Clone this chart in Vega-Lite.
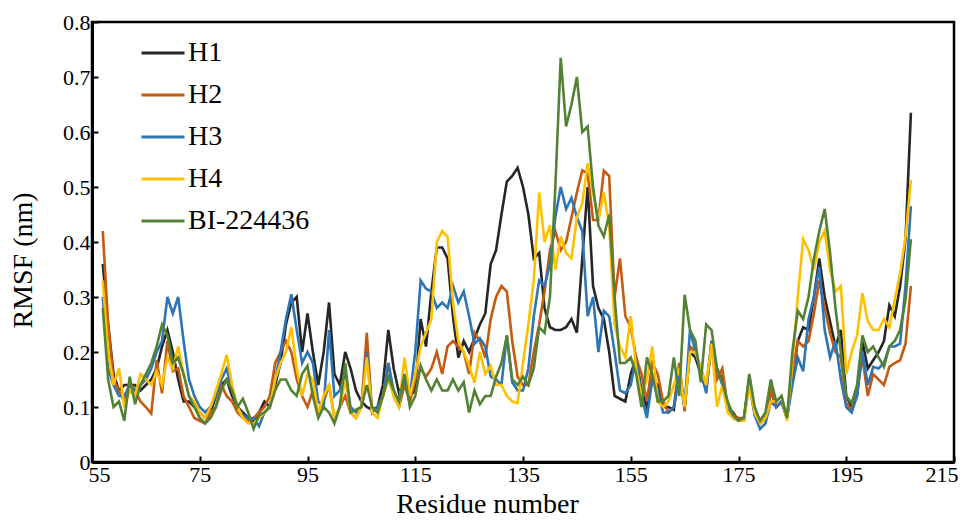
{
  "$schema": "https://vega.github.io/schema/vega-lite/v6.json",
  "width": 862,
  "height": 440,
  "autosize": {"type": "none"},
  "padding": {"left": 92, "top": 22, "right": 17, "bottom": 59},
  "background": "white",
  "config": {"view": {"stroke": "black", "strokeWidth": 2.5}, "font": "Liberation Serif"},
  "data": {"values": [
    {"r":57,"H1":0.36,"H2":0.42,"H3":0.30,"H4":0.33,"BI-224436":0.28},
    {"r":58,"H1":0.25,"H2":0.25,"H3":0.17,"H4":0.20,"BI-224436":0.15},
    {"r":59,"H1":0.16,"H2":0.15,"H3":0.14,"H4":0.14,"BI-224436":0.10},
    {"r":60,"H1":0.13,"H2":0.13,"H3":0.12,"H4":0.17,"BI-224436":0.11},
    {"r":61,"H1":0.14,"H2":0.11,"H3":0.12,"H4":0.10,"BI-224436":0.075},
    {"r":62,"H1":0.14,"H2":0.145,"H3":0.14,"H4":0.13,"BI-224436":0.155},
    {"r":63,"H1":0.14,"H2":0.13,"H3":0.13,"H4":0.12,"BI-224436":0.105},
    {"r":64,"H1":0.13,"H2":0.11,"H3":0.14,"H4":0.16,"BI-224436":0.14},
    {"r":65,"H1":0.14,"H2":0.10,"H3":0.15,"H4":0.15,"BI-224436":0.16},
    {"r":66,"H1":0.15,"H2":0.088,"H3":0.17,"H4":0.14,"BI-224436":0.18},
    {"r":67,"H1":0.17,"H2":0.185,"H3":0.20,"H4":0.165,"BI-224436":0.21},
    {"r":68,"H1":0.21,"H2":0.125,"H3":0.22,"H4":0.14,"BI-224436":0.25},
    {"r":69,"H1":0.24,"H2":0.22,"H3":0.30,"H4":0.19,"BI-224436":0.23},
    {"r":70,"H1":0.20,"H2":0.165,"H3":0.27,"H4":0.17,"BI-224436":0.18},
    {"r":71,"H1":0.15,"H2":0.17,"H3":0.30,"H4":0.21,"BI-224436":0.19},
    {"r":72,"H1":0.11,"H2":0.12,"H3":0.22,"H4":0.16,"BI-224436":0.16},
    {"r":73,"H1":0.11,"H2":0.10,"H3":0.15,"H4":0.12,"BI-224436":0.12},
    {"r":74,"H1":0.10,"H2":0.08,"H3":0.12,"H4":0.11,"BI-224436":0.10},
    {"r":75,"H1":0.09,"H2":0.075,"H3":0.10,"H4":0.09,"BI-224436":0.08},
    {"r":76,"H1":0.08,"H2":0.07,"H3":0.09,"H4":0.08,"BI-224436":0.07},
    {"r":77,"H1":0.09,"H2":0.09,"H3":0.10,"H4":0.10,"BI-224436":0.08},
    {"r":78,"H1":0.12,"H2":0.10,"H3":0.12,"H4":0.13,"BI-224436":0.10},
    {"r":79,"H1":0.14,"H2":0.14,"H3":0.15,"H4":0.16,"BI-224436":0.13},
    {"r":80,"H1":0.15,"H2":0.12,"H3":0.17,"H4":0.195,"BI-224436":0.15},
    {"r":81,"H1":0.12,"H2":0.11,"H3":0.13,"H4":0.14,"BI-224436":0.13},
    {"r":82,"H1":0.10,"H2":0.09,"H3":0.10,"H4":0.10,"BI-224436":0.10},
    {"r":83,"H1":0.09,"H2":0.08,"H3":0.085,"H4":0.08,"BI-224436":0.115},
    {"r":84,"H1":0.08,"H2":0.075,"H3":0.08,"H4":0.07,"BI-224436":0.09},
    {"r":85,"H1":0.075,"H2":0.08,"H3":0.08,"H4":0.07,"BI-224436":0.06},
    {"r":86,"H1":0.09,"H2":0.09,"H3":0.065,"H4":0.08,"BI-224436":0.085},
    {"r":87,"H1":0.11,"H2":0.10,"H3":0.09,"H4":0.09,"BI-224436":0.09},
    {"r":88,"H1":0.10,"H2":0.12,"H3":0.10,"H4":0.10,"BI-224436":0.10},
    {"r":89,"H1":0.14,"H2":0.18,"H3":0.15,"H4":0.15,"BI-224436":0.13},
    {"r":90,"H1":0.18,"H2":0.20,"H3":0.20,"H4":0.18,"BI-224436":0.15},
    {"r":91,"H1":0.25,"H2":0.22,"H3":0.26,"H4":0.20,"BI-224436":0.15},
    {"r":92,"H1":0.29,"H2":0.20,"H3":0.305,"H4":0.245,"BI-224436":0.13},
    {"r":93,"H1":0.30,"H2":0.15,"H3":0.24,"H4":0.17,"BI-224436":0.12},
    {"r":94,"H1":0.20,"H2":0.12,"H3":0.18,"H4":0.12,"BI-224436":0.16},
    {"r":95,"H1":0.27,"H2":0.10,"H3":0.20,"H4":0.16,"BI-224436":0.175},
    {"r":96,"H1":0.20,"H2":0.13,"H3":0.18,"H4":0.15,"BI-224436":0.12},
    {"r":97,"H1":0.14,"H2":0.09,"H3":0.11,"H4":0.09,"BI-224436":0.08},
    {"r":98,"H1":0.20,"H2":0.11,"H3":0.10,"H4":0.12,"BI-224436":0.10},
    {"r":99,"H1":0.29,"H2":0.14,"H3":0.24,"H4":0.14,"BI-224436":0.09},
    {"r":100,"H1":0.16,"H2":0.08,"H3":0.12,"H4":0.08,"BI-224436":0.07},
    {"r":101,"H1":0.14,"H2":0.10,"H3":0.13,"H4":0.10,"BI-224436":0.10},
    {"r":102,"H1":0.20,"H2":0.12,"H3":0.16,"H4":0.15,"BI-224436":0.18},
    {"r":103,"H1":0.17,"H2":0.09,"H3":0.10,"H4":0.09,"BI-224436":0.09},
    {"r":104,"H1":0.13,"H2":0.08,"H3":0.09,"H4":0.08,"BI-224436":0.095},
    {"r":105,"H1":0.11,"H2":0.10,"H3":0.10,"H4":0.10,"BI-224436":0.10},
    {"r":106,"H1":0.10,"H2":0.235,"H3":0.20,"H4":0.19,"BI-224436":0.14},
    {"r":107,"H1":0.095,"H2":0.09,"H3":0.09,"H4":0.09,"BI-224436":0.10},
    {"r":108,"H1":0.10,"H2":0.10,"H3":0.10,"H4":0.08,"BI-224436":0.09},
    {"r":109,"H1":0.14,"H2":0.12,"H3":0.12,"H4":0.12,"BI-224436":0.12},
    {"r":110,"H1":0.24,"H2":0.18,"H3":0.18,"H4":0.15,"BI-224436":0.155},
    {"r":111,"H1":0.17,"H2":0.12,"H3":0.13,"H4":0.12,"BI-224436":0.13},
    {"r":112,"H1":0.125,"H2":0.10,"H3":0.11,"H4":0.10,"BI-224436":0.11},
    {"r":113,"H1":0.15,"H2":0.14,"H3":0.15,"H4":0.19,"BI-224436":0.16},
    {"r":114,"H1":0.12,"H2":0.11,"H3":0.12,"H4":0.12,"BI-224436":0.10},
    {"r":115,"H1":0.13,"H2":0.15,"H3":0.20,"H4":0.16,"BI-224436":0.12},
    {"r":116,"H1":0.26,"H2":0.17,"H3":0.33,"H4":0.21,"BI-224436":0.175},
    {"r":117,"H1":0.21,"H2":0.155,"H3":0.315,"H4":0.235,"BI-224436":0.15},
    {"r":118,"H1":0.31,"H2":0.17,"H3":0.31,"H4":0.26,"BI-224436":0.13},
    {"r":119,"H1":0.39,"H2":0.20,"H3":0.28,"H4":0.40,"BI-224436":0.15},
    {"r":120,"H1":0.39,"H2":0.16,"H3":0.29,"H4":0.42,"BI-224436":0.13},
    {"r":121,"H1":0.37,"H2":0.21,"H3":0.28,"H4":0.41,"BI-224436":0.13},
    {"r":122,"H1":0.265,"H2":0.22,"H3":0.32,"H4":0.29,"BI-224436":0.15},
    {"r":123,"H1":0.19,"H2":0.21,"H3":0.29,"H4":0.22,"BI-224436":0.13},
    {"r":124,"H1":0.22,"H2":0.20,"H3":0.31,"H4":0.20,"BI-224436":0.145},
    {"r":125,"H1":0.20,"H2":0.16,"H3":0.265,"H4":0.175,"BI-224436":0.09},
    {"r":126,"H1":0.225,"H2":0.235,"H3":0.215,"H4":0.144,"BI-224436":0.13},
    {"r":127,"H1":0.25,"H2":0.22,"H3":0.225,"H4":0.20,"BI-224436":0.105},
    {"r":128,"H1":0.27,"H2":0.19,"H3":0.21,"H4":0.16,"BI-224436":0.12},
    {"r":129,"H1":0.36,"H2":0.26,"H3":0.155,"H4":0.175,"BI-224436":0.12},
    {"r":130,"H1":0.385,"H2":0.30,"H3":0.15,"H4":0.14,"BI-224436":0.155},
    {"r":131,"H1":0.45,"H2":0.32,"H3":0.14,"H4":0.14,"BI-224436":0.18},
    {"r":132,"H1":0.51,"H2":0.31,"H3":0.23,"H4":0.12,"BI-224436":0.23},
    {"r":133,"H1":0.52,"H2":0.22,"H3":0.145,"H4":0.11,"BI-224436":0.15},
    {"r":134,"H1":0.535,"H2":0.155,"H3":0.13,"H4":0.107,"BI-224436":0.14},
    {"r":135,"H1":0.50,"H2":0.14,"H3":0.13,"H4":0.18,"BI-224436":0.155},
    {"r":136,"H1":0.45,"H2":0.14,"H3":0.17,"H4":0.25,"BI-224436":0.14},
    {"r":137,"H1":0.37,"H2":0.20,"H3":0.265,"H4":0.33,"BI-224436":0.17},
    {"r":138,"H1":0.38,"H2":0.25,"H3":0.33,"H4":0.49,"BI-224436":0.245},
    {"r":139,"H1":0.28,"H2":0.31,"H3":0.32,"H4":0.40,"BI-224436":0.235},
    {"r":140,"H1":0.245,"H2":0.385,"H3":0.36,"H4":0.43,"BI-224436":0.30},
    {"r":141,"H1":0.24,"H2":0.42,"H3":0.445,"H4":0.35,"BI-224436":0.50},
    {"r":142,"H1":0.24,"H2":0.385,"H3":0.50,"H4":0.41,"BI-224436":0.735},
    {"r":143,"H1":0.245,"H2":0.40,"H3":0.46,"H4":0.38,"BI-224436":0.61},
    {"r":144,"H1":0.26,"H2":0.445,"H3":0.48,"H4":0.37,"BI-224436":0.65},
    {"r":145,"H1":0.235,"H2":0.49,"H3":0.445,"H4":0.445,"BI-224436":0.70},
    {"r":146,"H1":0.37,"H2":0.53,"H3":0.42,"H4":0.47,"BI-224436":0.60},
    {"r":147,"H1":0.50,"H2":0.525,"H3":0.265,"H4":0.543,"BI-224436":0.61},
    {"r":148,"H1":0.32,"H2":0.44,"H3":0.30,"H4":0.49,"BI-224436":0.50},
    {"r":149,"H1":0.28,"H2":0.44,"H3":0.20,"H4":0.44,"BI-224436":0.43},
    {"r":150,"H1":0.26,"H2":0.53,"H3":0.275,"H4":0.49,"BI-224436":0.41},
    {"r":151,"H1":0.20,"H2":0.52,"H3":0.265,"H4":0.43,"BI-224436":0.45},
    {"r":152,"H1":0.12,"H2":0.30,"H3":0.20,"H4":0.25,"BI-224436":0.30},
    {"r":153,"H1":0.115,"H2":0.37,"H3":0.13,"H4":0.21,"BI-224436":0.18},
    {"r":154,"H1":0.11,"H2":0.265,"H3":0.125,"H4":0.19,"BI-224436":0.18},
    {"r":155,"H1":0.16,"H2":0.245,"H3":0.14,"H4":0.265,"BI-224436":0.19},
    {"r":156,"H1":0.19,"H2":0.19,"H3":0.19,"H4":0.17,"BI-224436":0.16},
    {"r":157,"H1":0.13,"H2":0.16,"H3":0.12,"H4":0.12,"BI-224436":0.10},
    {"r":158,"H1":0.10,"H2":0.11,"H3":0.08,"H4":0.15,"BI-224436":0.19},
    {"r":159,"H1":0.15,"H2":0.18,"H3":0.15,"H4":0.21,"BI-224436":0.16},
    {"r":160,"H1":0.14,"H2":0.16,"H3":0.13,"H4":0.11,"BI-224436":0.11},
    {"r":161,"H1":0.10,"H2":0.11,"H3":0.09,"H4":0.10,"BI-224436":0.11},
    {"r":162,"H1":0.10,"H2":0.09,"H3":0.09,"H4":0.11,"BI-224436":0.12},
    {"r":163,"H1":0.095,"H2":0.10,"H3":0.10,"H4":0.14,"BI-224436":0.19},
    {"r":164,"H1":0.17,"H2":0.18,"H3":0.16,"H4":0.17,"BI-224436":0.12},
    {"r":165,"H1":0.10,"H2":0.092,"H3":0.10,"H4":0.10,"BI-224436":0.304},
    {"r":166,"H1":0.20,"H2":0.21,"H3":0.24,"H4":0.20,"BI-224436":0.24},
    {"r":167,"H1":0.19,"H2":0.20,"H3":0.20,"H4":0.20,"BI-224436":0.22},
    {"r":168,"H1":0.16,"H2":0.17,"H3":0.17,"H4":0.17,"BI-224436":0.145},
    {"r":169,"H1":0.13,"H2":0.14,"H3":0.125,"H4":0.14,"BI-224436":0.25},
    {"r":170,"H1":0.22,"H2":0.21,"H3":0.22,"H4":0.215,"BI-224436":0.24},
    {"r":171,"H1":0.17,"H2":0.15,"H3":0.17,"H4":0.10,"BI-224436":0.17},
    {"r":172,"H1":0.15,"H2":0.17,"H3":0.14,"H4":0.14,"BI-224436":0.145},
    {"r":173,"H1":0.10,"H2":0.10,"H3":0.10,"H4":0.09,"BI-224436":0.11},
    {"r":174,"H1":0.09,"H2":0.085,"H3":0.08,"H4":0.08,"BI-224436":0.085},
    {"r":175,"H1":0.075,"H2":0.08,"H3":0.075,"H4":0.075,"BI-224436":0.075},
    {"r":176,"H1":0.075,"H2":0.08,"H3":0.08,"H4":0.075,"BI-224436":0.08},
    {"r":177,"H1":0.155,"H2":0.145,"H3":0.14,"H4":0.14,"BI-224436":0.16},
    {"r":178,"H1":0.09,"H2":0.09,"H3":0.085,"H4":0.09,"BI-224436":0.10},
    {"r":179,"H1":0.07,"H2":0.07,"H3":0.06,"H4":0.07,"BI-224436":0.075},
    {"r":180,"H1":0.08,"H2":0.08,"H3":0.07,"H4":0.08,"BI-224436":0.09},
    {"r":181,"H1":0.13,"H2":0.13,"H3":0.11,"H4":0.11,"BI-224436":0.15},
    {"r":182,"H1":0.10,"H2":0.10,"H3":0.10,"H4":0.11,"BI-224436":0.11},
    {"r":183,"H1":0.11,"H2":0.11,"H3":0.11,"H4":0.12,"BI-224436":0.12},
    {"r":184,"H1":0.08,"H2":0.08,"H3":0.08,"H4":0.075,"BI-224436":0.08},
    {"r":185,"H1":0.15,"H2":0.16,"H3":0.14,"H4":0.18,"BI-224436":0.20},
    {"r":186,"H1":0.22,"H2":0.22,"H3":0.19,"H4":0.30,"BI-224436":0.275},
    {"r":187,"H1":0.245,"H2":0.21,"H3":0.165,"H4":0.405,"BI-224436":0.26},
    {"r":188,"H1":0.24,"H2":0.22,"H3":0.26,"H4":0.385,"BI-224436":0.30},
    {"r":189,"H1":0.30,"H2":0.27,"H3":0.30,"H4":0.35,"BI-224436":0.37},
    {"r":190,"H1":0.37,"H2":0.33,"H3":0.355,"H4":0.40,"BI-224436":0.42},
    {"r":191,"H1":0.30,"H2":0.28,"H3":0.24,"H4":0.42,"BI-224436":0.46},
    {"r":192,"H1":0.255,"H2":0.234,"H3":0.19,"H4":0.35,"BI-224436":0.38},
    {"r":193,"H1":0.21,"H2":0.20,"H3":0.22,"H4":0.31,"BI-224436":0.28},
    {"r":194,"H1":0.24,"H2":0.19,"H3":0.15,"H4":0.32,"BI-224436":0.20},
    {"r":195,"H1":0.12,"H2":0.107,"H3":0.10,"H4":0.16,"BI-224436":0.12},
    {"r":196,"H1":0.10,"H2":0.095,"H3":0.09,"H4":0.20,"BI-224436":0.107},
    {"r":197,"H1":0.12,"H2":0.13,"H3":0.12,"H4":0.23,"BI-224436":0.14},
    {"r":198,"H1":0.22,"H2":0.19,"H3":0.20,"H4":0.307,"BI-224436":0.23},
    {"r":199,"H1":0.17,"H2":0.12,"H3":0.14,"H4":0.256,"BI-224436":0.20},
    {"r":200,"H1":0.185,"H2":0.16,"H3":0.173,"H4":0.24,"BI-224436":0.21},
    {"r":201,"H1":0.20,"H2":0.15,"H3":0.17,"H4":0.24,"BI-224436":0.19},
    {"r":202,"H1":0.22,"H2":0.14,"H3":0.18,"H4":0.26,"BI-224436":0.173},
    {"r":203,"H1":0.285,"H2":0.173,"H3":0.21,"H4":0.245,"BI-224436":0.21},
    {"r":204,"H1":0.265,"H2":0.18,"H3":0.21,"H4":0.295,"BI-224436":0.22},
    {"r":205,"H1":0.32,"H2":0.185,"H3":0.215,"H4":0.343,"BI-224436":0.24},
    {"r":206,"H1":0.405,"H2":0.215,"H3":0.32,"H4":0.41,"BI-224436":0.295},
    {"r":207,"H1":0.635,"H2":0.32,"H3":0.465,"H4":0.513,"BI-224436":0.405}
  ]},
  "transform": [{"fold": ["H1", "H2", "H3", "H4", "BI-224436"], "as": ["series", "rmsf"]}],
  "mark": {"type": "line", "strokeWidth": 2.6},
  "encoding": {
    "x": {
      "field": "r", "type": "quantitative",
      "scale": {"domain": [55, 215], "nice": false, "zero": false},
      "axis": {
        "values": [55, 75, 95, 115, 135, 155, 175, 195, 215],
        "title": "Residue number", "grid": false,
        "tickSize": -6, "tickColor": "black", "tickWidth": 2,
        "domainColor": "black", "domainWidth": 3,
        "labelFont": "Liberation Serif", "labelFontSize": 22, "labelColor": "black",
        "labelPadding": 8, "labelFlush": true, "labelFlushOffset": 4, "labelOverlap": false,
        "titleFont": "Liberation Serif", "titleFontSize": 28, "titleFontWeight": "normal",
        "titleColor": "black", "titleX": 395, "titleY": 50, "titleAlign": "center",
        "titleBaseline": "alphabetic", "titleAnchor": null
      }
    },
    "y": {
      "field": "rmsf", "type": "quantitative",
      "scale": {"domain": [0, 0.8], "nice": false},
      "axis": {
        "values": [0, 0.1, 0.2, 0.3, 0.4, 0.5, 0.6, 0.7, 0.8],
        "format": ".1~f",
        "title": "RMSF (nm)", "grid": false,
        "tickSize": -6, "tickColor": "black", "tickWidth": 2,
        "domainColor": "black", "domainWidth": 3,
        "labelFont": "Liberation Serif", "labelFontSize": 22, "labelColor": "black",
        "labelPadding": 8, "labelFlush": false, "labelOverlap": false,
        "titleFont": "Liberation Serif", "titleFontSize": 28, "titleFontWeight": "normal",
        "titleColor": "black", "titleX": -61, "titleY": 238, "titleAngle": -90,
        "titleAlign": "center", "titleBaseline": "alphabetic", "titleAnchor": null
      }
    },
    "color": {
      "field": "series", "type": "nominal",
      "scale": {
        "domain": ["H1", "H2", "H3", "H4", "BI-224436"],
        "range": ["#262626", "#c55a11", "#2e75b6", "#ffc000", "#548235"]
      },
      "legend": {
        "orient": "none", "legendX": 48, "legendY": 8, "title": null,
        "symbolType": "stroke", "symbolSize": 1849, "symbolStrokeWidth": 3,
        "labelFont": "Liberation Serif", "labelFontSize": 28, "labelColor": "black",
        "rowPadding": 5, "labelOffset": 2, "padding": 0
      }
    }
  }
}
